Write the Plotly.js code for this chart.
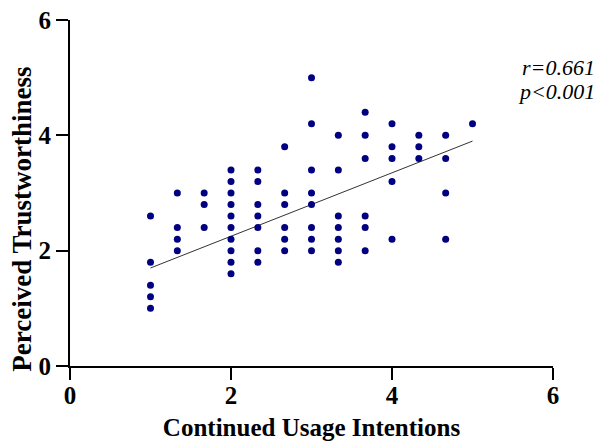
<!DOCTYPE html>
<html><head><meta charset="utf-8">
<script src="https://cdn.plot.ly/plotly-3.0.1.min.js"></script>
<style>html,body{margin:0;padding:0;background:#fff}</style>
</head><body>
<div id="chart" style="width:613px;height:441px"></div>
<script>
// Continued usage intention levels (x) and perceived trustworthiness values (y) per column
const xLevels = [1, 4/3, 5/3, 2, 7/3, 8/3, 3, 10/3, 11/3, 4, 13/3, 14/3, 5];
const yByLevel = [
  [2.6, 1.8, 1.4, 1.2, 1.0],
  [3.0, 2.4, 2.2, 2.0],
  [3.0, 2.8, 2.4],
  [3.4, 3.2, 3.0, 2.8, 2.6, 2.4, 2.2, 2.0, 1.8, 1.6],
  [3.4, 3.2, 2.8, 2.6, 2.4, 2.0, 1.8],
  [3.8, 3.0, 2.8, 2.4, 2.2, 2.0],
  [5.0, 4.2, 3.4, 3.0, 2.8, 2.4, 2.2, 2.0],
  [4.0, 3.4, 2.6, 2.4, 2.2, 2.0, 1.8],
  [4.4, 4.0, 3.6, 2.6, 2.4, 2.0],
  [4.2, 3.8, 3.6, 3.2, 2.2],
  [4.0, 3.8, 3.6],
  [4.0, 3.6, 3.0, 2.2],
  [4.2]
];
const fitX = [1, 5];
const fitY = [1.70, 3.90];
const statLines = ["r=0.661", "p<0.001"];
const xTicks = [0, 2, 4, 6];
const yTicks = [0, 2, 4, 6];
const xTitle = 'Continued Usage Intentions';
const yTitle = 'Perceived Trustworthiness';

const xs = [], ys = [];
xLevels.forEach((x, i) => yByLevel[i].forEach(y => { xs.push(x); ys.push(y); }));

const fam = 'Liberation Serif';
const traces = [
  {x: fitX, y: fitY, mode: 'lines', line: {color: '#333', width: 1}, hoverinfo: 'skip'},
  {x: xs, y: ys, mode: 'markers', marker: {color: '#000080', size: 7}, cliponaxis: false}
];
const axisCommon = {
  range: [0, 6], showgrid: false, zeroline: false, showline: true,
  linecolor: '#000', linewidth: 2, ticks: 'outside', ticklen: 12, tickwidth: 2, tickcolor: '#000',
  tickfont: {family: fam, size: 25, weight: 'bold', color: '#000'}
};
const layout = {
  width: 613, height: 441, showlegend: false,
  font: {family: fam, color: '#000'},
  paper_bgcolor: '#fff', plot_bgcolor: '#fff',
  margin: {l: 70, r: 60, t: 20, b: 75},
  xaxis: Object.assign({}, axisCommon, {tickvals: xTicks, ticktext: xTicks.map(v => '<b>' + v + '</b>'),
    ticklabelstandoff: -6,
    title: {text: xTitle, standoff: 18, font: {family: fam, size: 25, weight: 'bold', color: '#000'}}}),
  yaxis: Object.assign({}, axisCommon, {tickvals: yTicks, ticktext: yTicks.map(v => '<b>' + v + '</b>')}),
  annotations: [
    {xref: 'paper', yref: 'paper', x: -0.1, y: 0.5 - 26/346, xanchor: 'center', yanchor: 'middle',
     showarrow: false, textangle: -90, text: '<b>' + yTitle + '</b>',
     font: {family: fam, size: 27, color: '#000'}},
    {xref: 'paper', yref: 'paper', x: 1.091, y: 0.864, xanchor: 'right', yanchor: 'middle', showarrow: false,
     text: '<i>' + statLines[0] + '</i>', font: {family: fam, size: 22, color: '#000'}},
    {xref: 'paper', yref: 'paper', x: 1.091, y: 0.794, xanchor: 'right', yanchor: 'middle', showarrow: false,
     text: '<i>' + statLines[1] + '</i>', font: {family: fam, size: 22, color: '#000'}}
  ]
};
Plotly.newPlot('chart', traces, layout, {staticPlot: true, displayModeBar: false});
</script>
</body></html>
